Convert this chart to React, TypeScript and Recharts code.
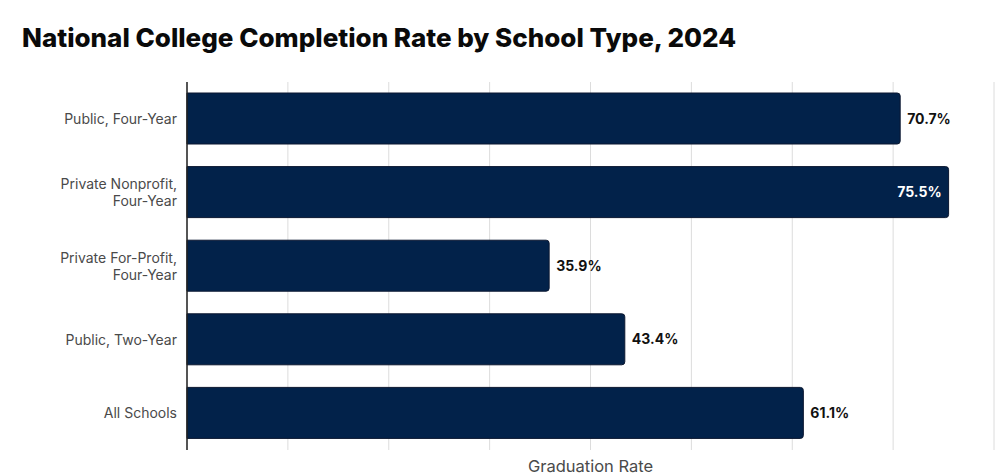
import React from "react"
import { BarChart, Bar, XAxis, YAxis, CartesianGrid, LabelList } from "recharts"

const schoolTypes = [
  "Public, Four-Year",
  "Private Nonprofit,\nFour-Year",
  "Private For-Profit,\nFour-Year",
  "Public, Two-Year",
  "All Schools",
]
const completionRates = [70.7, 75.5, 35.9, 43.4, 61.1]
const rateTicks = [0, 10, 20, 30, 40, 50, 60, 70, 80]

const data = schoolTypes.map((type, i) => ({ type, rate: completionRates[i] }))

const FONT = "Inter, 'Open Sans', sans-serif"
const NAVY = "#02224a"

function SchoolTick({ x, y, payload }: any) {
  const lines: string[] = String(payload.value).split("\n")
  const lh = 17
  const start = y - ((lines.length - 1) * lh) / 2
  return (
    <text x={x} y={start} textAnchor="end" fill="#4a4a4a" fontSize={14} fontFamily={FONT}>
      {lines.map((l, i) => (
        <tspan key={i} x={x} y={start + i * lh} dy="0.36em">
          {l}
        </tspan>
      ))}
    </text>
  )
}

// labels sit past the bar end, unless the bar runs too close to the right edge
function RateLabel({ x, y, width, height, value }: any) {
  const inside = value > 74
  const tx = inside ? x + width - 7 : x + width + 7
  return (
    <text
      x={tx}
      y={y + height / 2}
      dy="0.36em"
      textAnchor={inside ? "end" : "start"}
      fill={inside ? "#ffffff" : "#111111"}
      fontSize={14}
      fontWeight={700}
      fontFamily={FONT}
    >
      {value}%
    </text>
  )
}

export default function App() {
  return (
    <div style={{ position: "fixed", top: 0, left: 0, width: 1000, height: 476, background: "#fff", fontFamily: FONT }}>
      <div
        style={{
          position: "absolute",
          left: 22,
          top: 22,
          fontSize: 26,
          fontWeight: 800,
          color: "#0a0a0a",
          lineHeight: "32px",
        }}
      >
        National College Completion Rate by School Type, 2024
      </div>
      <BarChart
        width={1000}
        height={476}
        data={data}
        layout="vertical"
        margin={{ top: 82, right: 6, bottom: 0, left: 0 }}
        barSize={51}
      >
        <CartesianGrid horizontal={false} stroke="#dcdcdc" />
        <XAxis
          type="number"
          domain={[0, 80]}
          ticks={rateTicks}
          tick={() => <g />}
          tickLine={false}
          axisLine={false}
          height={26}
          label={{ value: "Graduation Rate", position: "insideBottom", offset: 4, fill: "#4a4a4a", fontSize: 16.5, fontFamily: FONT }}
        />
        <YAxis
          type="category"
          dataKey="type"
          width={187}
          tickLine={false}
          axisLine={{ stroke: "#222", strokeWidth: 1.5 }}
          tick={<SchoolTick />}
          tickMargin={4}
          interval={0}
        />
        <Bar dataKey="rate" fill={NAVY} stroke="#0b1730" strokeWidth={1} radius={[0, 3, 3, 0]} isAnimationActive={false}>
          <LabelList dataKey="rate" content={<RateLabel />} />
        </Bar>
      </BarChart>
    </div>
  )
}
